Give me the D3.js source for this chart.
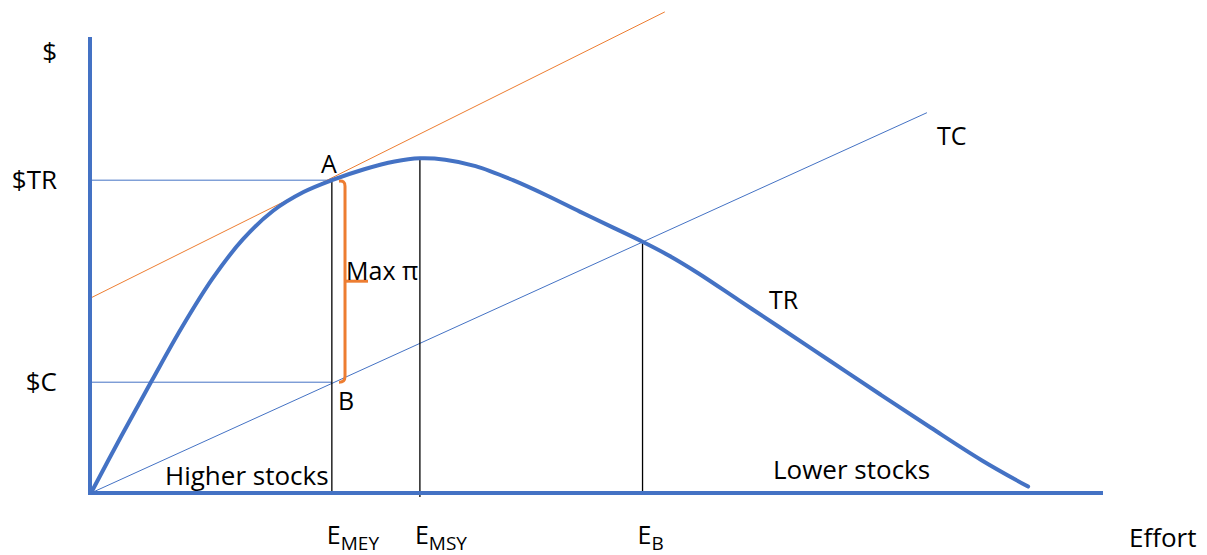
<!DOCTYPE html>
<html>
<head>
<meta charset="utf-8">
<script src="https://cdn.jsdelivr.net/npm/d3@7"></script>
<style>
  html, body { margin: 0; padding: 0; background: #fff; }
  svg { display: block; }
  text { font-family: "Open Sans", "DejaVu Sans", sans-serif; fill: #000; }
</style>
</head>
<body>
<svg id="chart" width="1207" height="555"></svg>
<script>
// ---- data (effort units 0-100, value units 0-100) ----
const trEffort = [0, 3, 6, 9, 12, 15, 18, 21, 23.8, 27, 30, 32.5, 35, 38, 41.7, 45, 48.3, 51.6, 54.5, 57, 60, 64, 68, 73, 78, 83, 88, 92.6];
const trValue  = [0, 12.5, 24.6, 36.4, 47.0, 55.6, 61.9, 66.0, 68.6, 71.0, 72.7, 73.4, 73.1, 71.7, 68.6, 65.3, 61.7, 58.2, 55.1, 52.2, 48.2, 42.3, 36.4, 29.0, 21.6, 14.3, 7.2, 1.4];
const tcEffort = [0, 82.6];
const tcValue  = [0, 83.4];
const tangentEffort = [0, 56.7];
const tangentValue  = [42.8, 105.5];
const effortMarks = [23.8, 32.5, 54.5];          // E_MEY, E_MSY, E_B
const effortMarkTop = [68.6, 73.4, 55.1];
const effortMarkLabels = [["E", "MEY"], ["E", "MSY"], ["E", "B"]];
const valueMarks = [68.6, 24.3];                 // $TR, $C
const valueMarkLabels = ["$TR", "$C"];

const svg = d3.select("#chart");
const x = d3.scaleLinear().domain([0, 100]).range([91, 1103]);
const y = d3.scaleLinear().domain([0, 100]).range([493, 37]);

const BLUE = "#4472C4", ORANGE = "#ED7D31";

// horizontal guide lines ($TR, $C)
svg.selectAll(".hguide").data(valueMarks).enter().append("line")
  .attr("x1", x(0)).attr("x2", x(effortMarks[0]))
  .attr("y1", d => y(d)).attr("y2", d => y(d))
  .attr("stroke", BLUE).attr("stroke-width", 1);

// TC line
svg.append("line")
  .attr("x1", x(tcEffort[0])).attr("y1", y(tcValue[0]))
  .attr("x2", x(tcEffort[1])).attr("y2", y(tcValue[1]))
  .attr("stroke", BLUE).attr("stroke-width", 1);

// tangent line (orange)
svg.append("line")
  .attr("x1", x(tangentEffort[0])).attr("y1", y(tangentValue[0]))
  .attr("x2", x(tangentEffort[1])).attr("y2", y(tangentValue[1]))
  .attr("stroke", ORANGE).attr("stroke-width", 1);

// vertical effort lines
svg.selectAll(".vline").data(effortMarks).enter().append("line")
  .attr("x1", d => x(d)).attr("x2", d => x(d))
  .attr("y1", (d, i) => y(effortMarkTop[i]))
  .attr("y2", (d, i) => i === 1 ? y(-0.9) : y(0))
  .attr("stroke", "#000").attr("stroke-width", 1.3);

// orange bracket
const bx = x(25.1), bTop = y(valueMarks[0]), bBot = y(valueMarks[1]);
const bMid = (bTop + bBot) / 2;
svg.append("path")
  .attr("d", `M${bx-6},${bTop+1} Q${bx},${bTop} ${bx},${bTop+6} L${bx},${bBot-6} Q${bx},${bBot} ${bx-6},${bBot}`)
  .attr("fill", "none").attr("stroke", ORANGE).attr("stroke-width", 3);
svg.append("line")
  .attr("x1", bx).attr("x2", bx + 23).attr("y1", bMid).attr("y2", bMid)
  .attr("stroke", ORANGE).attr("stroke-width", 3);

// axes
svg.append("line").attr("x1", x(0) - 1).attr("x2", x(0) - 1).attr("y1", y(100)).attr("y2", y(0) + 2)
  .attr("stroke", BLUE).attr("stroke-width", 4);
svg.append("line").attr("x1", x(0) - 2).attr("x2", x(100)).attr("y1", y(0)).attr("y2", y(0))
  .attr("stroke", BLUE).attr("stroke-width", 4);

// TR curve
const trPts = trEffort.map((e, i) => [e, trValue[i]]);
svg.append("path")
  .attr("d", d3.line().x(d => x(d[0])).y(d => y(d[1])).curve(d3.curveCatmullRom.alpha(0.5))(trPts))
  .attr("fill", "none").attr("stroke", BLUE).attr("stroke-width", 4).attr("stroke-linecap", "round");

// axis labels
svg.append("text").attr("x", 57).attr("y", 61).attr("text-anchor", "end").attr("font-size", 26).text("$");
svg.selectAll(".vlab").data(valueMarks).enter().append("text")
  .attr("x", 57).attr("y", d => y(d) + 9).attr("text-anchor", "end").attr("font-size", 26)
  .text((d, i) => valueMarkLabels[i]);
svg.append("text").attr("x", 1129).attr("y", 547).attr("font-size", 26).text("Effort");

// effort labels with subscripts
const el = svg.selectAll(".elab").data(effortMarks).enter().append("text")
  .attr("x", d => x(d) - 5).attr("y", 544).attr("font-size", 25);
el.append("tspan").text((d, i) => effortMarkLabels[i][0]);
el.append("tspan").attr("font-size", 19).attr("dy", 6).text((d, i) => effortMarkLabels[i][1]);

// annotations
svg.append("text").attr("x", 329).attr("y", 173).attr("text-anchor", "middle").attr("font-size", 25).text("A");
svg.append("text").attr("x", 338).attr("y", 410).attr("font-size", 25).text("B");
svg.append("text").attr("x", 346).attr("y", 280).attr("font-size", 25).text("Max π");
svg.append("text").attr("x", 769).attr("y", 309).attr("font-size", 25).text("TR");
svg.append("text").attr("x", 937).attr("y", 145).attr("font-size", 25).text("TC");
svg.append("text").attr("x", 165).attr("y", 485).attr("font-size", 26).text("Higher stocks");
svg.append("text").attr("x", 773).attr("y", 479).attr("font-size", 26).text("Lower stocks");
</script>
</body>
</html>
